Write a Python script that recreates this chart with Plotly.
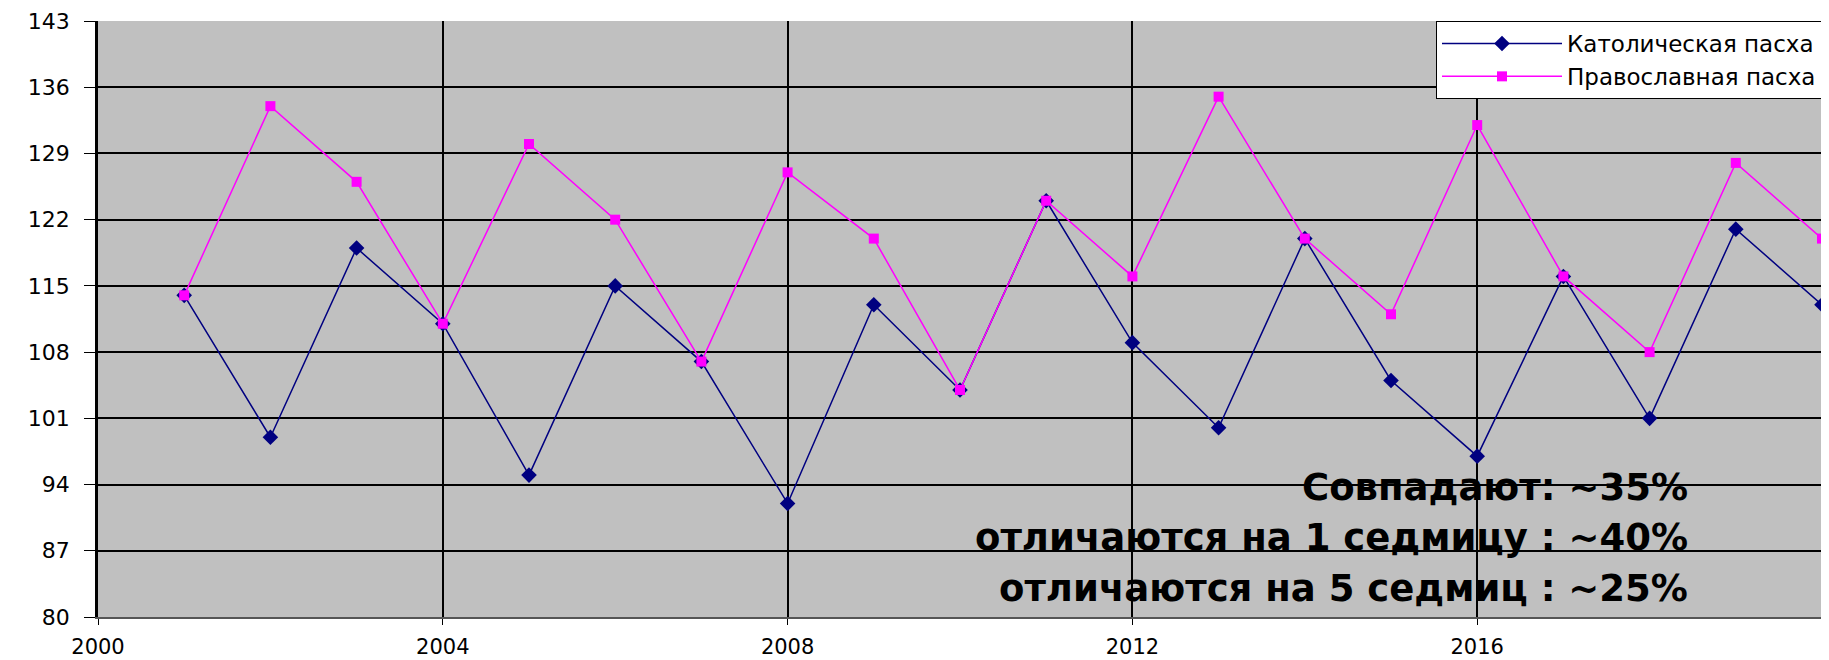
import plotly.graph_objects as go

years = [2001, 2002, 2003, 2004, 2005, 2006, 2007, 2008, 2009, 2010,
         2011, 2012, 2013, 2014, 2015, 2016, 2017, 2018, 2019, 2020]
catholic = [114, 99, 119, 111, 95, 115, 107, 92, 113, 104,
            124, 109, 100, 120, 105, 97, 116, 101, 121, 113]
orthodox = [114, 134, 126, 111, 130, 122, 107, 127, 120, 104,
            124, 116, 135, 120, 112, 132, 116, 108, 128, 120]
x_ticks = [2000, 2004, 2008, 2012, 2016, 2020]
y_ticks = [80, 87, 94, 101, 108, 115, 122, 129, 136, 143]
notes = ["Совпадают: ~35%", "отличаются на 1 седмицу : ~40%", "отличаются на 5 седмиц : ~25%"]

# page body has an 8px default margin -> compensate so the plot lands at screen 98..1822 x 21..617
OFF = 8
L, R, T, B = 98, 1822, 21, 617
fig = go.Figure()
fig.add_trace(go.Scatter(x=years, y=catholic, mode="lines+markers", name="Католическая пасха",
                         line=dict(color="#000080", width=1.5),
                         marker=dict(symbol="diamond", size=12, color="#000080")))
fig.add_trace(go.Scatter(x=years, y=orthodox, mode="lines+markers", name="Православная пасха",
                         line=dict(color="#FF00FF", width=1.5),
                         marker=dict(symbol="square", size=10, color="#FF00FF")))

for i, t in enumerate(notes):
    fig.add_annotation(text="<b>%s</b>" % t, xref="paper", yref="paper",
                       x=(1690 - L) / (R - L), xanchor="right",
                       y=(B - (487 + 50.5 * i)) / (B - T), yanchor="middle",
                       showarrow=False, font=dict(family="DejaVu Sans", size=37, color="black"))

fig.update_layout(
    width=1829, height=660,
    margin=dict(l=L - OFF, r=1829 - (R - OFF), t=T - OFF, b=660 - (B - OFF), autoexpand=False),
    paper_bgcolor="white", plot_bgcolor="#C0C0C0",
    font=dict(family="DejaVu Sans", size=21, color="black"),
    showlegend=True,
    legend=dict(x=1, y=1, xanchor="right", yanchor="top", bgcolor="white",
                bordercolor="black", borderwidth=1, font=dict(size=23),
                tracegroupgap=0, itemwidth=120),
)
fig.update_xaxes(range=[2000, 2020], tickvals=x_ticks, showgrid=True, gridcolor="black", gridwidth=1.5,
                 ticks="outside", ticklen=6, tickcolor="black", showline=True, linecolor="#555555",
                 linewidth=1.5, zeroline=False, tickfont=dict(size=21), ticklabelstandoff=4,
                 automargin=False)
fig.update_yaxes(range=[80, 143], tickvals=y_ticks, showgrid=True, gridcolor="black", gridwidth=1.5,
                 ticks="outside", ticklen=11, tickcolor="black", showline=True, linecolor="black",
                 linewidth=2.5, zeroline=False, tickfont=dict(size=22), ticklabelstandoff=10,
                 automargin=False)

fig.write_html("out.html")
